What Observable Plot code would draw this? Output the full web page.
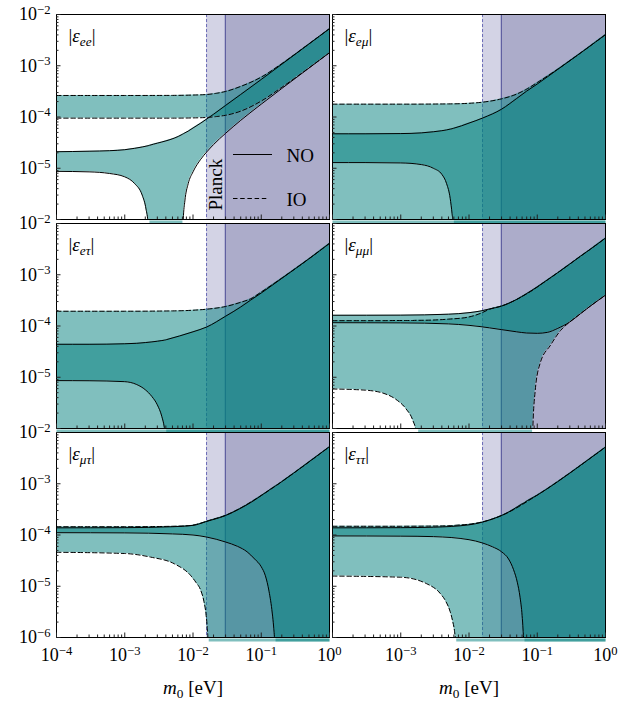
<!DOCTYPE html>
<html><head><meta charset="utf-8">
<script src="https://cdn.jsdelivr.net/npm/d3@7"></script>
<script src="https://cdn.jsdelivr.net/npm/@observablehq/plot@0.6"></script>
<style>
body{margin:0;background:#fff;}
#chart{position:relative;width:629px;height:702px;}
#chart svg{position:absolute;left:0;top:0;}
</style></head><body><div id="chart"></div>
<script>
// ---------------- data ----------------
// m0 in eV; lo / hi = band limits of |eps|; 0 = below the plotted range
const eeNO_m0 = [1e-4,3e-4,6e-4,1e-3,1.4e-3,1.8e-3,2.05e-3,2.2e-3,2.3e-3,7.0e-3,7.2e-3,7.6e-3,8.5e-3,1e-2,1.3e-2,1.6e-2,2e-2,3e-2,5e-2,0.1,0.2,0.5,1];
const eeNO_lo = [8.7e-6,8.5e-6,7.9e-6,6.8e-6,5.0e-6,3.0e-6,1.6e-6,8e-7,0,0,1e-6,2.3e-6,5e-6,8.5e-6,1.5e-5,2.1e-5,2.9e-5,4.8e-5,8.6e-5,1.78e-4,3.6e-4,9e-4,1.8e-3];
const eeNO_hi = [2.1e-5,2.15e-5,2.2e-5,2.3e-5,2.45e-5,2.6e-5,2.7e-5,2.75e-5,2.8e-5,4.6e-5,4.7e-5,4.9e-5,5.3e-5,6.1e-5,7.6e-5,9.2e-5,1.13e-4,1.68e-4,2.75e-4,5.4e-4,1.07e-3,2.66e-3,5.3e-3];
const eeIO_m0 = [1e-4,1e-3,5e-3,1e-2,1.6e-2,2.2e-2,3e-2,5e-2,0.1,0.2,0.5,1];
const eeIO_lo = [9.5e-5,9.5e-5,9.5e-5,9.6e-5,9.8e-5,1.02e-4,1.08e-4,1.3e-4,2.05e-4,3.8e-4,9.1e-4,1.8e-3];
const eeIO_hi = [2.63e-4,2.63e-4,2.64e-4,2.68e-4,2.75e-4,2.9e-4,3.15e-4,3.95e-4,6.0e-4,1.1e-3,2.67e-3,5.3e-3];

const emNO_m0 = [1e-4,3e-4,1e-3,2e-3,3e-3,4e-3,4.7e-3,5.3e-3,5.65e-3,5.85e-3,6e-3,1e-2,1.6e-2,3e-2,5e-2,7e-2,0.1,0.2,0.5,1];
const emNO_lo = [1.29e-5,1.29e-5,1.27e-5,1.18e-5,1.0e-5,7.6e-6,5.0e-6,2.6e-6,1.3e-6,8e-7,0,0,0,0,0,0,0,0,0,0];
const emNO_hi = [4.7e-5,4.7e-5,4.75e-5,4.9e-5,5.15e-5,5.4e-5,5.6e-5,5.8e-5,5.9e-5,6.0e-5,6.05e-5,7.6e-5,9.6e-5,1.42e-4,2.3e-4,3.2e-4,4.4e-4,8.5e-4,2.05e-3,4.05e-3];
const emIO_m0 = [1e-4,1e-3,5e-3,1e-2,1.6e-2,3e-2,5e-2,7e-2,0.1,0.2,0.5,1];
const emIO_lo = [0,0,0,0,0,0,0,0,0,0,0,0];
const emIO_hi = [1.78e-4,1.78e-4,1.8e-4,1.85e-4,1.95e-4,2.26e-4,2.8e-4,3.5e-4,4.7e-4,8.6e-4,2.05e-3,4.05e-3];

const etNO_m0 = [1e-4,3e-4,1e-3,1.5e-3,2e-3,2.5e-3,3e-3,3.5e-3,3.8e-3,3.95e-3,4.05e-3,1e-2,1.6e-2,3e-2,5e-2,7e-2,0.1,0.2,0.5,1];
const etNO_lo = [8.6e-6,8.55e-6,8.2e-6,7.2e-6,5.7e-6,4.2e-6,2.9e-6,1.7e-6,1.05e-6,7e-7,0,0,0,0,0,0,0,0,0,0];
const etNO_hi = [4.4e-5,4.4e-5,4.5e-5,4.6e-5,4.75e-5,4.9e-5,5.05e-5,5.2e-5,5.3e-5,5.35e-5,5.4e-5,7.7e-5,9.6e-5,1.55e-4,2.35e-4,3.2e-4,4.4e-4,8.5e-4,2.05e-3,4.1e-3];
const etIO_m0 = [1e-4,1e-3,5e-3,1e-2,1.6e-2,3e-2,5e-2,7e-2,0.1,0.2,0.5,1];
const etIO_lo = [0,0,0,0,0,0,0,0,0,0,0,0];
const etIO_hi = [1.94e-4,1.94e-4,1.97e-4,2.03e-4,2.13e-4,2.4e-4,2.9e-4,3.4e-4,4.6e-4,8.6e-4,2.05e-3,4.1e-3];

const mmNO_m0 = [1e-4,1e-3,5e-3,1e-2,1.5e-2,2e-2,3e-2,5e-2,7e-2,0.1,0.14,0.2,0.3,0.43,0.6,1];
const mmNO_lo = [1.16e-4,1.15e-4,1.1e-4,1.03e-4,9.7e-5,9.2e-5,8.5e-5,7.7e-5,7.3e-5,7.2e-5,7.5e-5,9e-5,1.2e-4,1.74e-4,2.45e-4,4e-4];
const mmNO_hi = [1.62e-4,1.63e-4,1.7e-4,1.82e-4,1.97e-4,2.15e-4,2.45e-4,3.3e-4,4.3e-4,5.8e-4,7.9e-4,1.1e-3,1.62e-3,2.3e-3,3.15e-3,5.2e-3];
const mmIO_m0 = [1e-4,3e-4,5.5e-4,8.5e-4,1.2e-3,1.5e-3,1.7e-3,1.8e-3,5e-3,1e-2,1.5e-2,2e-2,3e-2,5e-2,8.4e-2,8.62e-2,9.35e-2,0.11,0.156,0.22,0.3,0.43,0.6,1];
const mmIO_lo = [5.9e-6,5.6e-6,4.9e-6,3.7e-6,2.4e-6,1.45e-6,8e-7,0,0,0,0,0,0,0,0,1e-6,5.6e-6,1.86e-5,4.2e-5,8.2e-5,1.2e-4,1.74e-4,2.45e-4,4e-4];
const mmIO_hi = [1.27e-4,1.27e-4,1.27e-4,1.28e-4,1.28e-4,1.28e-4,1.29e-4,1.29e-4,1.36e-4,1.5e-4,1.78e-4,2.12e-4,2.45e-4,3.3e-4,4.9e-4,5.0e-4,5.4e-4,6.3e-4,8.7e-4,1.2e-3,1.62e-3,2.3e-3,3.15e-3,5.2e-3];

const mtNO_m0 = [1e-4,1e-3,5e-3,1e-2,1.6e-2,3e-2,4.5e-2,6.2e-2,8e-2,0.1,0.115,0.13,0.145,0.152,0.157,0.162,0.2,0.3,0.5,1];
const mtNO_lo = [1.11e-4,1.1e-4,1.05e-4,1.0e-4,9.1e-5,7.3e-5,6e-5,4.7e-5,3.4e-5,2.4e-5,1.6e-5,8e-6,3e-6,1.6e-6,8e-7,0,0,0,0,0];
const mtNO_hi = [1.38e-4,1.39e-4,1.45e-4,1.54e-4,1.85e-4,2.4e-4,3.1e-4,3.9e-4,4.8e-4,5.9e-4,6.7e-4,7.5e-4,8.3e-4,8.6e-4,8.9e-4,9.1e-4,1.1e-3,1.62e-3,2.68e-3,5.3e-3];
const mtIO_m0 = [1e-4,1e-3,2.4e-3,5.3e-3,9.2e-3,1.1e-2,1.3e-2,1.45e-2,1.55e-2,1.62e-2,1.66e-2,1.7e-2,3e-2,0.1,0.3,1];
const mtIO_lo = [4.6e-5,4.35e-5,3.7e-5,2.75e-5,1.63e-5,1.2e-5,8.3e-6,5e-6,2.9e-6,1.5e-6,8e-7,0,0,0,0,0];
const mtIO_hi = [1.45e-4,1.45e-4,1.46e-4,1.48e-4,1.53e-4,1.6e-4,1.7e-4,1.78e-4,1.83e-4,1.87e-4,1.89e-4,1.91e-4,2.42e-4,5.9e-4,1.62e-3,5.3e-3];

const ttNO_m0 = [1e-4,1e-3,3e-3,1e-2,1.57e-2,2.2e-2,3e-2,3.8e-2,4.5e-2,5.1e-2,5.6e-2,6e-2,6.2e-2,6.35e-2,6.5e-2,0.1,0.2,0.5,1];
const ttNO_lo = [9.6e-5,9.5e-5,9.3e-5,8.1e-5,7e-5,5.9e-5,4.7e-5,3.4e-5,2.1e-5,1.2e-5,6.1e-6,2.7e-6,1.4e-6,7e-7,0,0,0,0,0];
const ttNO_hi = [1.38e-4,1.39e-4,1.42e-4,1.58e-4,1.78e-4,2.05e-4,2.4e-4,2.8e-4,3.2e-4,3.55e-4,3.85e-4,4.05e-4,4.15e-4,4.2e-4,4.3e-4,6.0e-4,1.1e-3,2.65e-3,5.2e-3];
const ttIO_m0 = [1e-4,1e-3,2.4e-3,3.8e-3,4.6e-3,5.3e-3,5.8e-3,6.15e-3,6.35e-3,6.5e-3,1e-2,1.57e-2,3e-2,0.1,0.3,1];
const ttIO_lo = [1.58e-5,1.5e-5,1.12e-5,7.2e-6,5e-6,3.2e-6,2e-6,1.3e-6,8e-7,0,0,0,0,0,0,0];
const ttIO_hi = [1.48e-4,1.48e-4,1.49e-4,1.5e-4,1.51e-4,1.52e-4,1.53e-4,1.54e-4,1.545e-4,1.55e-4,1.62e-4,1.8e-4,2.4e-4,6.0e-4,1.62e-3,5.2e-3];

// Planck bounds on m0 (IO dashed, NO solid)
const planckIO = 0.0158;
const planckNO = 0.0298;

const panelLabels = ["|ε_ee|","|ε_eμ|","|ε_eτ|","|ε_μμ|","|ε_μτ|","|ε_ττ|"];
const xDomain = [1e-4, 1];
const yDomain = [1e-6, 1e-2];
const xMajor = [1e-4, 1e-3, 1e-2, 1e-1, 1];
const yMajor = [1e-6, 1e-5, 1e-4, 1e-3, 1e-2];
const minorMult = [2,3,4,5,6,7,8,9];
const legendLabels = ["NO", "IO"];
const xTitle = "m_0 [eV]";

// ---------------- drawing ----------------
const TEAL = "#017f7d";
const xMinor = xMajor.slice(0,-1).flatMap(d => minorMult.map(k => k*d));
const yMinor = yMajor.slice(0,-1).flatMap(d => minorMult.map(k => k*d));
const sup = d => "10^" + String(Math.round(Math.log10(d))).replace("-", "−");
const ZERO = 1e-9;

function table(m0, lo, hi){ return m0.map((x,i)=>({x, lo: lo[i] || ZERO, hi: hi[i], zero: lo[i] === 0})); }

const panels = [
  {NO: table(eeNO_m0,eeNO_lo,eeNO_hi), IO: table(eeIO_m0,eeIO_lo,eeIO_hi)},
  {NO: table(emNO_m0,emNO_lo,emNO_hi), IO: table(emIO_m0,emIO_lo,emIO_hi)},
  {NO: table(etNO_m0,etNO_lo,etNO_hi), IO: table(etIO_m0,etIO_lo,etIO_hi)},
  {NO: table(mmNO_m0,mmNO_lo,mmNO_hi), IO: table(mmIO_m0,mmIO_lo,mmIO_hi)},
  {NO: table(mtNO_m0,mtNO_lo,mtNO_hi), IO: table(mtIO_m0,mtIO_lo,mtIO_hi)},
  {NO: table(ttNO_m0,ttNO_lo,ttNO_hi), IO: table(ttIO_m0,ttIO_lo,ttIO_hi)}
];

const W = 629, H = 702, FW = 273, FH = 205;
const colLeft = [56, 332];
const rowTop = [14, 223, 432];
const planckRegions = [
  {x1: planckIO, x2: planckNO, fill: "#d3d3e5"},
  {x1: planckNO, x2: xDomain[1], fill: "#acacca"}
];
const chart = document.getElementById("chart");

// thin strip of filling that spills just below the frame where a band reaches zero
const spill = (t) => Plot.line(t, {x: "x", y: d => d.zero ? yDomain[0] : NaN, stroke: TEAL, strokeOpacity: 0.5, strokeWidth: 3, dy: 2.5, strokeLinecap: "butt"});

panels.forEach((p, i) => {
  const col = i % 2, row = Math.floor(i / 2);
  const left = colLeft[col], top = rowTop[row];
  const bottomRow = row === 2;
  const marks = [
    Plot.rect(planckRegions, {x1: "x1", x2: "x2", fill: "fill"}),
    Plot.ruleX([planckIO], {stroke: "#6b6bb6", strokeWidth: 1, strokeDasharray: "3,2"}),
    Plot.ruleX([planckNO], {stroke: "#5e5ea0", strokeWidth: 1.2}),
    spill(p.NO), spill(p.IO),
    Plot.areaY(p.NO, {x: "x", y1: "lo", y2: "hi", fill: TEAL, fillOpacity: 0.5, curve: "monotone-x", clip: true}),
    Plot.areaY(p.IO, {x: "x", y1: "lo", y2: "hi", fill: TEAL, fillOpacity: 0.5, curve: "monotone-x", clip: true}),
    Plot.line(p.NO, {x: "x", y: "lo", stroke: "#000", strokeWidth: 1, curve: "monotone-x", clip: true}),
    Plot.line(p.NO, {x: "x", y: "hi", stroke: "#000", strokeWidth: 1, curve: "monotone-x", clip: true}),
    Plot.line(p.IO, {x: "x", y: "lo", stroke: "#000", strokeWidth: 1, strokeDasharray: "4.5,2.7", curve: "monotone-x", clip: true}),
    Plot.line(p.IO, {x: "x", y: "hi", stroke: "#000", strokeWidth: 1, strokeDasharray: "4.5,2.7", curve: "monotone-x", clip: true}),
    Plot.frame({stroke: "#000", strokeWidth: 1}),
    Plot.axisY({ticks: yMajor, anchor: "left", tickSize: -4.5, tickFormat: () => "", label: null, stroke: "#222"}),
    Plot.axisY({ticks: yMinor, anchor: "left", tickSize: -2.5, tickFormat: () => "", label: null, stroke: "#222"}),
    Plot.axisX({ticks: xMajor, anchor: "bottom", tickSize: -4.5, tickFormat: () => "", label: null, stroke: "#222"}),
    Plot.axisX({ticks: xMinor, anchor: "bottom", tickSize: -2.5, tickFormat: () => "", label: null, stroke: "#222"}),
    Plot.text([panelLabels[i]], {frameAnchor: "top-left", dx: 12, dy: 21.5, textAnchor: "start", lineAnchor: "middle", fontSize: 19})
  ];
  if (col === 0) {
    marks.push(Plot.axisY({ticks: bottomRow ? yMajor : yMajor.slice(1), anchor: "left", tickSize: 0, tickPadding: 6, tickFormat: sup, label: null, fontSize: 18}));
  }
  if (bottomRow) {
    marks.push(Plot.axisX({ticks: col === 0 ? xMajor : xMajor.slice(1), anchor: "bottom", tickSize: 0, tickPadding: 11, tickFormat: sup, label: null, fontSize: 18}));
    marks.push(Plot.text([xTitle], {frameAnchor: "bottom", dy: 50, lineAnchor: "middle", fontSize: 19}));
  }
  if (i === 0) {
    marks.push(Plot.text(["Planck"], {x: Math.sqrt(planckIO * planckNO), frameAnchor: "bottom", dy: -9, rotate: -90, textAnchor: "start", lineAnchor: "middle", fontSize: 19}));
    marks.push(Plot.text([legendLabels[0]], {frameAnchor: "top-right", dx: -43, dy: 141, textAnchor: "start", lineAnchor: "middle", fontSize: 19}));
    marks.push(Plot.text([legendLabels[1]], {frameAnchor: "top-right", dx: -43, dy: 185, textAnchor: "start", lineAnchor: "middle", fontSize: 19}));
  }
  const svg = Plot.plot({
    width: W, height: H,
    marginLeft: left, marginRight: W - left - FW, marginTop: top, marginBottom: H - top - FH,
    x: {type: "log", domain: xDomain},
    y: {type: "log", domain: yDomain},
    style: {background: "transparent", overflow: "visible", fontFamily: "'Liberation Serif', 'Times New Roman', serif", fontSize: "18px", color: "#000"},
    marks
  });
  // rich text: superscripts, subscripts, italics
  d3.select(svg).selectAll("text").each(function() {
    const t = d3.select(this);
    const s = this.textContent;
    let m;
    if ((m = s.match(/^10\^(.+)$/))) {
      t.text("10");
      t.append("tspan").attr("dy", "-0.5em").attr("font-size", "0.7em").text(m[1]);
    } else if ((m = s.match(/^\|ε_(.+)\|$/))) {
      t.text("|");
      t.append("tspan").attr("font-style", "italic").text("ε");
      t.append("tspan").attr("font-style", "italic").attr("font-size", "0.7em").attr("dy", "0.3em").text(m[1]);
      t.append("tspan").attr("dy", "-0.21em").text("|");
    } else if ((m = s.match(/^m_(\d) (.+)$/))) {
      t.text("");
      t.append("tspan").attr("font-style", "italic").text("m");
      t.append("tspan").attr("font-size", "0.7em").attr("dy", "0.3em").text(m[1]);
      t.append("tspan").attr("dy", "-0.21em").text(" " + m[2]);
    }
  });
  if (i === 0) {
    // legend line samples, placed relative to the frame
    const g = d3.select(svg).append("g").attr("stroke", "#000").attr("stroke-width", 1);
    g.append("line").attr("x1", left + 177).attr("x2", left + 216).attr("y1", top + 140.5).attr("y2", top + 140.5);
    g.append("line").attr("x1", left + 177).attr("x2", left + 213).attr("y1", top + 184.5).attr("y2", top + 184.5).attr("stroke-dasharray", "4.5,2.7");
  }
  chart.appendChild(svg);
});
</script></body></html>
